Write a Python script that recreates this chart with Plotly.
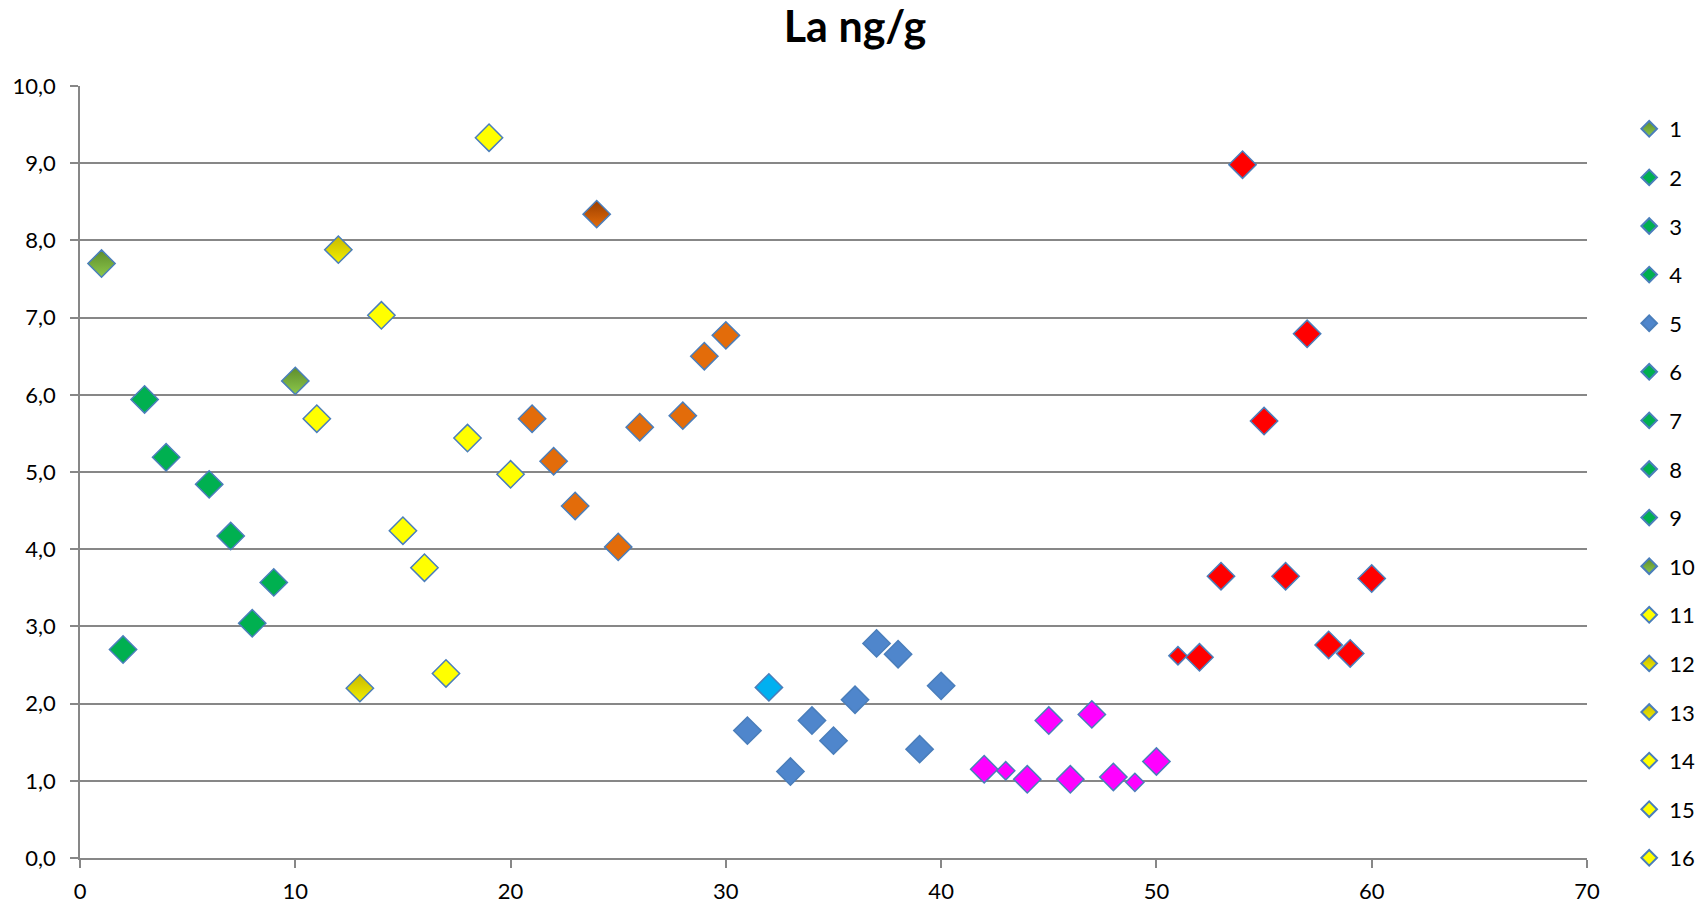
import plotly.graph_objects as go

# ---- data ----
sample_ids = list(range(1, 61))
la_values = [
    7.70, 2.70, 5.94, 5.19, None, 4.84, 4.17, 3.04, 3.57, 6.18,
    5.69, 7.88, 2.20, 7.03, 4.24, 3.76, 2.39, 5.44, 9.33, 4.97,
    5.69, 5.14, 4.56, 8.34, 4.03, 5.58, None, 5.73, 6.50, 6.77,
    1.65, 2.21, 1.12, 1.78, 1.52, 2.05, 2.78, 2.64, 1.41, 2.23,
    None, 1.15, 1.13, 1.02, 1.78, 1.02, 1.86, 1.05, 0.98, 1.25,
    2.62, 2.60, 3.65, 8.98, 5.66, 3.65, 6.79, 2.76, 2.65, 3.62,
]
series_names = [str(i) for i in sample_ids]
y_ticks = [i * 1.0 for i in range(11)]
x_ticks = list(range(0, 71, 10))

# ---- styles ----
GREEN = "#00B050"
BLUE = "#4F86CC"
YEL = "#FFFF00"
ORG = "#E36C0A"
MAG = "#FF00FF"
RED = "#FF0000"
fills = (
    ["olive", GREEN, GREEN, GREEN, BLUE, GREEN, GREEN, GREEN, GREEN, "olive"]
    + [YEL, "dyel", "dyel", YEL, YEL, YEL, YEL, YEL, YEL, YEL]
    + [ORG, ORG, ORG, "dorg", ORG, ORG, ORG, ORG, ORG, ORG]
    + [BLUE, "#00B0F0", BLUE, BLUE, BLUE, BLUE, BLUE, BLUE, BLUE, BLUE]
    + [MAG] * 10
    + [RED] * 10
)
gradients = {
    "olive": ("#5E8C2C", "#8CC84A"),
    "dyel": ("#C8B800", "#F2F000"),
    "dorg": ("#9A3E00", "#E36C0A"),
}
small = {43, 49, 51}

FONT = "Lato"
fig = go.Figure()
for i, (sid, val, name, f) in enumerate(zip(sample_ids, la_values, series_names, fills)):
    marker = dict(
        symbol="diamond",
        size=14 if sid in small else 21,
        line=dict(color="#4A7EBB", width=1.5),
    )
    if f in gradients:
        top, bottom = gradients[f]
        marker["color"] = top
        marker["gradient"] = dict(type="vertical", color=bottom)
    else:
        marker["color"] = f
    fig.add_trace(
        go.Scatter(
            x=[sid],
            y=[val],
            mode="markers",
            name=name,
            legendgroup=name,
            showlegend=i < 16,
            marker=marker,
            hoverinfo="x+y+name",
        )
    )

fig.update_layout(
    template="none",
    width=1707,
    height=906,
    autosize=False,
    margin=dict(l=79.5, r=120, t=86, b=48, autoexpand=False),
    paper_bgcolor="white",
    plot_bgcolor="white",
    separators=", ",
    font=dict(family=FONT, size=22, color="black"),
    title=dict(
        text="La ng/g",
        font=dict(family=FONT, size=43, color="black", weight="bold"),
        x=855 / 1707,
        xanchor="center",
        y=1 - 27 / 906,
        yanchor="middle",
        yref="container",
        automargin=False,
    ),
    legend=dict(
        x=1.028,
        xanchor="left",
        y=1.0 - (108 - 86) / 772,
        yanchor="top",
        font=dict(family=FONT, size=22, color="black"),
        tracegroupgap=17,
        itemsizing="constant",
        bgcolor="rgba(0,0,0,0)",
        maxheight=900,
    ),
    xaxis=dict(
        range=[0, 70],
        tickvals=x_ticks,
        ticktext=[str(t) for t in x_ticks],
        tickfont=dict(family=FONT, size=22, color="black"),
        showgrid=False,
        zeroline=False,
        showline=True,
        linecolor="#878787",
        linewidth=1.5,
        ticks="outside",
        ticklen=8,
        tickwidth=1.5,
        tickcolor="#878787",
        ticklabelstandoff=5,
        automargin=False,
        fixedrange=True,
    ),
    yaxis=dict(
        range=[0, 10],
        tickvals=y_ticks,
        tickformat=".1f",
        tickfont=dict(family=FONT, size=22, color="black"),
        showgrid=True,
        gridcolor="#878787",
        gridwidth=1.5,
        zeroline=False,
        showline=True,
        linecolor="#878787",
        linewidth=1.5,
        ticks="outside",
        ticklen=8,
        tickwidth=1.5,
        tickcolor="#878787",
        ticklabelstandoff=10,
        automargin=False,
        fixedrange=True,
    ),
)

fig.write_html("out.html")
